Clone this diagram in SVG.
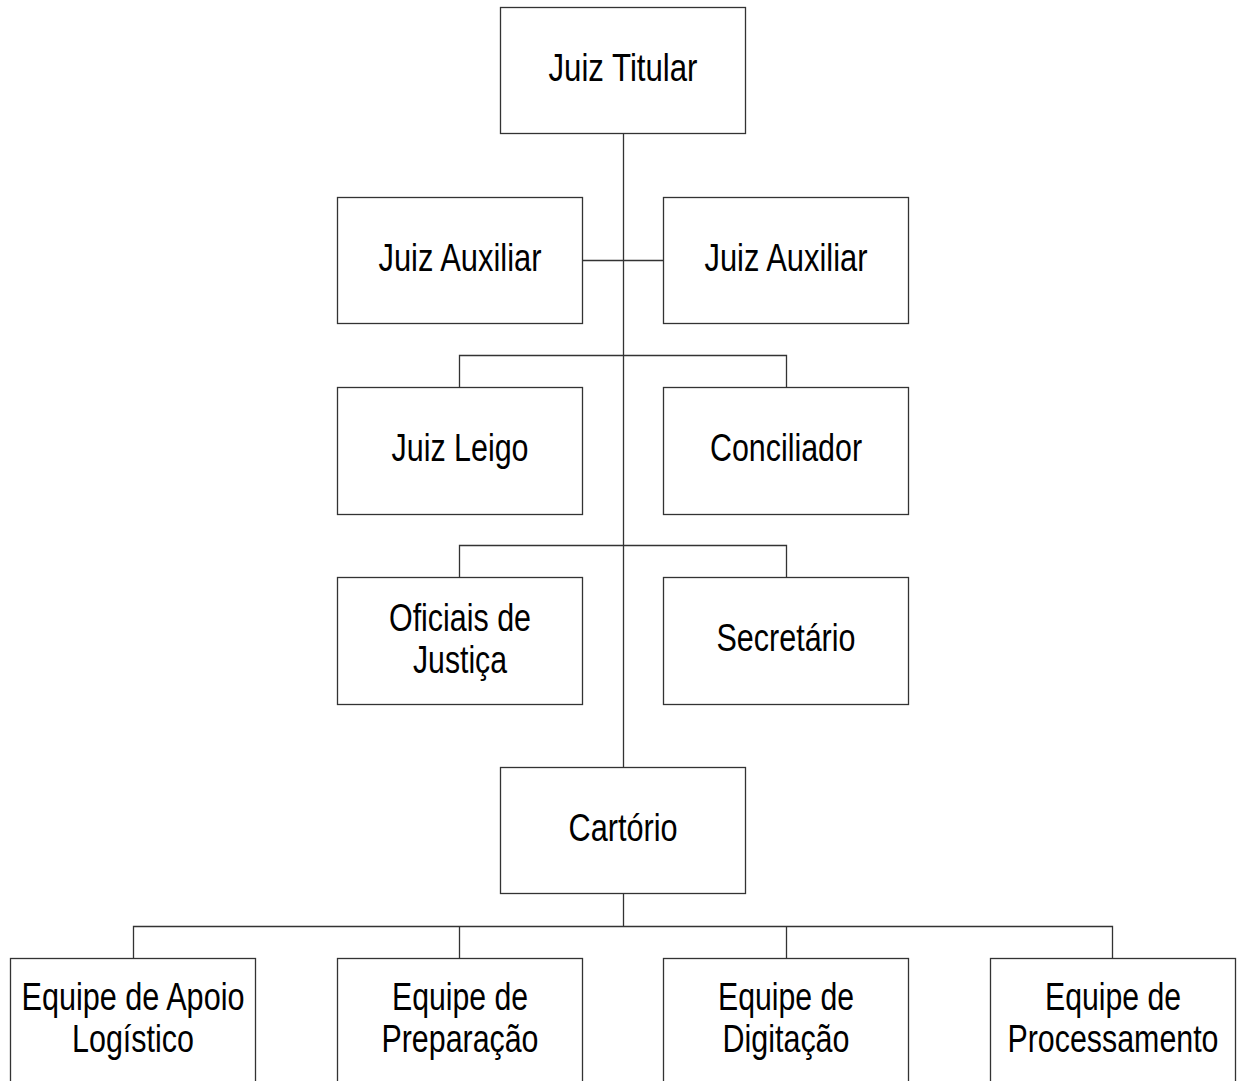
<svg xmlns="http://www.w3.org/2000/svg" width="1239" height="1081" viewBox="0 0 1239 1081">
  <style>
    .box { fill: #ffffff; stroke: #333333; stroke-width: 1.3; }
    .wire { fill: none; stroke: #333333; stroke-width: 1.3; }
    .lbl { font-family: "Liberation Sans Narrow", "Arial Narrow", "Liberation Sans", Arial, sans-serif; font-size: 38px; fill: #000000; text-anchor: middle; }
  </style>
  <rect width="1239" height="1081" fill="#ffffff"/>

  <!-- connectors -->
  <g id="connectors">
    <path class="wire" d="M623.5 133 V767"/>
    <path class="wire" d="M582 260.5 H663"/>
    <path class="wire" d="M459.5 387 V355.5 H786.5 V387"/>
    <path class="wire" d="M459.5 577 V545.5 H786.5 V577"/>
    <path class="wire" d="M623.5 893 V926.5"/>
    <path class="wire" d="M133.5 958 V926.5 H1112.5 V958"/>
    <path class="wire" d="M459.5 926.5 V958"/>
    <path class="wire" d="M786.5 926.5 V958"/>
  </g>

  <g id="juiz-titular">
    <rect class="box" x="500.5" y="7.5" width="245" height="126"/>
    <text class="lbl" x="623" y="81" textLength="149" lengthAdjust="spacingAndGlyphs">Juiz Titular</text>
  </g>

  <g id="juiz-auxiliar-1">
    <rect class="box" x="337.5" y="197.5" width="245" height="126"/>
    <text class="lbl" x="460" y="271" textLength="163" lengthAdjust="spacingAndGlyphs">Juiz Auxiliar</text>
  </g>

  <g id="juiz-auxiliar-2">
    <rect class="box" x="663.5" y="197.5" width="245" height="126"/>
    <text class="lbl" x="786" y="271" textLength="163" lengthAdjust="spacingAndGlyphs">Juiz Auxiliar</text>
  </g>

  <g id="juiz-leigo">
    <rect class="box" x="337.5" y="387.5" width="245" height="127"/>
    <text class="lbl" x="460" y="461" textLength="137" lengthAdjust="spacingAndGlyphs">Juiz Leigo</text>
  </g>

  <g id="conciliador">
    <rect class="box" x="663.5" y="387.5" width="245" height="127"/>
    <text class="lbl" x="786" y="461" textLength="152" lengthAdjust="spacingAndGlyphs">Conciliador</text>
  </g>

  <g id="oficiais-de-justica">
    <rect class="box" x="337.5" y="577.5" width="245" height="127"/>
    <text class="lbl" x="460" y="631" textLength="142" lengthAdjust="spacingAndGlyphs">Oficiais de</text>
    <text class="lbl" x="460" y="673" textLength="94" lengthAdjust="spacingAndGlyphs">Justiça</text>
  </g>

  <g id="secretario">
    <rect class="box" x="663.5" y="577.5" width="245" height="127"/>
    <text class="lbl" x="786" y="651" textLength="139" lengthAdjust="spacingAndGlyphs">Secretário</text>
  </g>

  <g id="cartorio">
    <rect class="box" x="500.5" y="767.5" width="245" height="126"/>
    <text class="lbl" x="623" y="841" textLength="109" lengthAdjust="spacingAndGlyphs">Cartório</text>
  </g>

  <g id="equipe-apoio-logistico">
    <rect class="box" x="10.5" y="958.5" width="245" height="127"/>
    <text class="lbl" x="133" y="1010" textLength="223" lengthAdjust="spacingAndGlyphs">Equipe de Apoio</text>
    <text class="lbl" x="133" y="1052" textLength="122" lengthAdjust="spacingAndGlyphs">Logístico</text>
  </g>

  <g id="equipe-preparacao">
    <rect class="box" x="337.5" y="958.5" width="245" height="127"/>
    <text class="lbl" x="460" y="1010" textLength="136" lengthAdjust="spacingAndGlyphs">Equipe de</text>
    <text class="lbl" x="460" y="1052" textLength="157" lengthAdjust="spacingAndGlyphs">Preparação</text>
  </g>

  <g id="equipe-digitacao">
    <rect class="box" x="663.5" y="958.5" width="245" height="127"/>
    <text class="lbl" x="786" y="1010" textLength="136" lengthAdjust="spacingAndGlyphs">Equipe de</text>
    <text class="lbl" x="786" y="1052" textLength="127" lengthAdjust="spacingAndGlyphs">Digitação</text>
  </g>

  <g id="equipe-processamento">
    <rect class="box" x="990.5" y="958.5" width="245" height="127"/>
    <text class="lbl" x="1113" y="1010" textLength="136" lengthAdjust="spacingAndGlyphs">Equipe de</text>
    <text class="lbl" x="1113" y="1052" textLength="211" lengthAdjust="spacingAndGlyphs">Processamento</text>
  </g>
</svg>
